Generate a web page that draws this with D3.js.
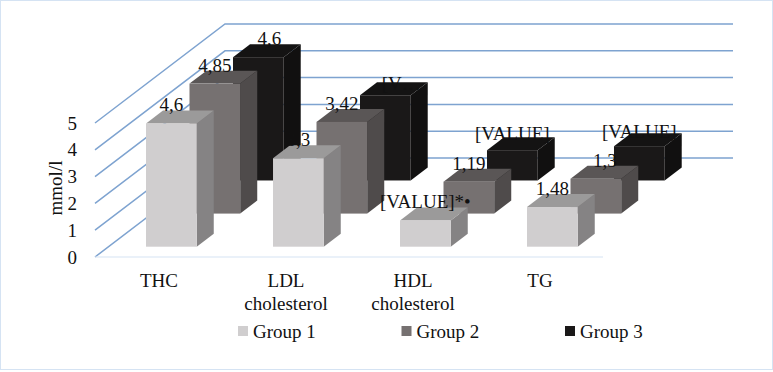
<!DOCTYPE html>
<html>
<head>
<meta charset="utf-8">
<script src="https://cdn.jsdelivr.net/npm/d3@7"></script>
<style>
  html, body { margin: 0; padding: 0; background: #fff; }
  text { font-family: "Liberation Serif", serif; fill: #111; }
</style>
</head>
<body>
<div id="chart"></div>
<script>
// Chart data
const categories = ["THC", "LDL", "HDL", "TG"];
const categorySubLabels = ["", "cholesterol", "cholesterol", ""];
const groups = ["Group 1", "Group 2", "Group 3"];
const group1Values = [4.6, 3.3, 0.98, 1.48];
const group2Values = [4.85, 3.42, 1.19, 1.3];
const group3Values = [4.6, 3.18, 1.13, 1.28];
const group1Labels = ["4,6", "3,3", "[VALUE]*\u2022", "1,48"];
const group2Labels = ["4,85", "3,42", "1,19", "1,3"];
const group3Labels = ["4,6", "[V\u2026", "[VALUE]", "[VALUE]"];
const yTicks = [0, 1, 2, 3, 4, 5];

const width = 773;
const height = 372;

const groupColors = [
    { front: "#d0cecf", side: "#858384", top: "#9b9a9a" },
    { front: "#767171", side: "#4f4b4b", top: "#5a5656" },
    { front: "#1a1818", side: "#111010", top: "#141313" }
];

const svg = d3.select("#chart").append("svg")
    .attr("width", width)
    .attr("height", height);

// chart frame
svg.append("rect")
    .attr("x", 0.5).attr("y", 0.5)
    .attr("width", width - 1).attr("height", height - 3)
    .attr("fill", "#fff")
    .attr("stroke", "#d5e3f3");

// Fake 3D: value goes up, depth goes back and to the right
const y = d3.scaleLinear().domain([0, 5]).range([257, 123]);
const depthX = d3.scaleLinear().domain([0, 1]).range([0, 130]);
const depthY = d3.scaleLinear().domain([0, 1]).range([0, -99]);

const x = d3.scaleBand()
    .domain(categories)
    .range([95, 603]);

const groupDepth = d3.scalePoint().domain(groups).range([0.104, 0.773]);
const barInset = 37.5;
const barWidth = 50.7;
const barDepth = 0.131; // share of the full depth

const toPoints = pts => pts.map(p => p.join(",")).join(" ");

// walls: diagonal on the left, then the horizontal back line
const grid = svg.append("g");
yTicks.forEach(t => {
    grid.append("polyline")
        .attr("points", toPoints([
            [95, y(t)],
            [95 + depthX(1), y(t) + depthY(1)],
            [603 + depthX(1), y(t) + depthY(1)]
        ]))
        .attr("fill", "none")
        .attr("stroke", "#7ea3d0")
        .attr("stroke-width", 1.5);
});

// floor front edge
grid.append("line")
    .attr("x1", 95).attr("x2", 603)
    .attr("y1", y(0)).attr("y2", y(0))
    .attr("stroke", "#d5e3f3")
    .attr("stroke-width", 1.2);

const seriesValues = [group1Values, group2Values, group3Values];
const seriesLabels = [group1Labels, group2Labels, group3Labels];

// draw back rows first so the front ones cover them
const bars = svg.append("g");
[2, 1, 0].forEach(g => {
    categories.forEach((c, i) => {
        const d = groupDepth(groups[g]);
        const x0 = x(c) + barInset + depthX(d);
        const x1 = x0 + barWidth;
        const base = y(0) + depthY(d);
        const top = base - (y(0) - y(seriesValues[g][i]));
        const dx = depthX(barDepth);
        const dy = depthY(barDepth);
        const col = groupColors[g];

        bars.append("polygon")
            .attr("points", toPoints([[x1, base], [x1 + dx, base + dy], [x1 + dx, top + dy], [x1, top]]))
            .attr("fill", col.side);
        bars.append("polygon")
            .attr("points", toPoints([[x0, top], [x1, top], [x1 + dx, top + dy], [x0 + dx, top + dy]]))
            .attr("fill", col.top);
        bars.append("rect")
            .attr("x", x0).attr("y", top)
            .attr("width", barWidth).attr("height", base - top)
            .attr("fill", col.front);
    });
});

// data labels, a few were dragged away from the bar in the original
const labelShift = { "2-0": [11, 0], "2-1": [16, 7], "2-3": [0, 4], "1-3": [9, 0], "2-2": [0, 2] };
const labelLayer = svg.append("g");
[2, 1, 0].forEach(g => {
    categories.forEach((c, i) => {
        const d = groupDepth(groups[g]);
        const base = y(0) + depthY(d);
        const top = base - (y(0) - y(seriesValues[g][i]));
        const shift = labelShift[g + "-" + i] || [0, 0];
        labelLayer.append("text")
            .attr("x", x(c) + barInset + depthX(d) + barWidth / 2 + shift[0])
            .attr("y", top + depthY(barDepth) + 1 + shift[1])
            .attr("text-anchor", "middle")
            .attr("font-size", 19)
            .text(seriesLabels[g][i]);
    });
});

// y axis
const yAxis = d3.axisLeft(y).tickValues(yTicks).tickFormat(d3.format("d")).tickSize(0).tickPadding(18);
const yAxisG = svg.append("g").attr("transform", "translate(95,0)").call(yAxis);
yAxisG.select(".domain").remove();
yAxisG.selectAll("text")
    .attr("font-size", 19)
    .style("font-family", '"Liberation Serif", serif');

svg.append("text")
    .attr("transform", "translate(62,188) rotate(-90)")
    .attr("text-anchor", "middle")
    .attr("font-size", 19)
    .text("mmol/l");

// category labels
categories.forEach((c, i) => {
    const cx = x(c) + 64;
    svg.append("text")
        .attr("x", cx).attr("y", 287)
        .attr("text-anchor", "middle")
        .attr("font-size", 19)
        .text(c);
    if (categorySubLabels[i]) {
        svg.append("text")
            .attr("x", cx).attr("y", 310)
            .attr("text-anchor", "middle")
            .attr("font-size", 19)
            .text(categorySubLabels[i]);
    }
});

// legend
const legendX = d3.scalePoint().domain(groups).range([238, 565]);
groups.forEach((g, i) => {
    svg.append("rect")
        .attr("x", legendX(g)).attr("y", 326)
        .attr("width", 10).attr("height", 10)
        .attr("fill", groupColors[i].front);
    svg.append("text")
        .attr("x", legendX(g) + 15).attr("y", 338)
        .attr("font-size", 19)
        .text(g);
});
</script>
</body>
</html>
